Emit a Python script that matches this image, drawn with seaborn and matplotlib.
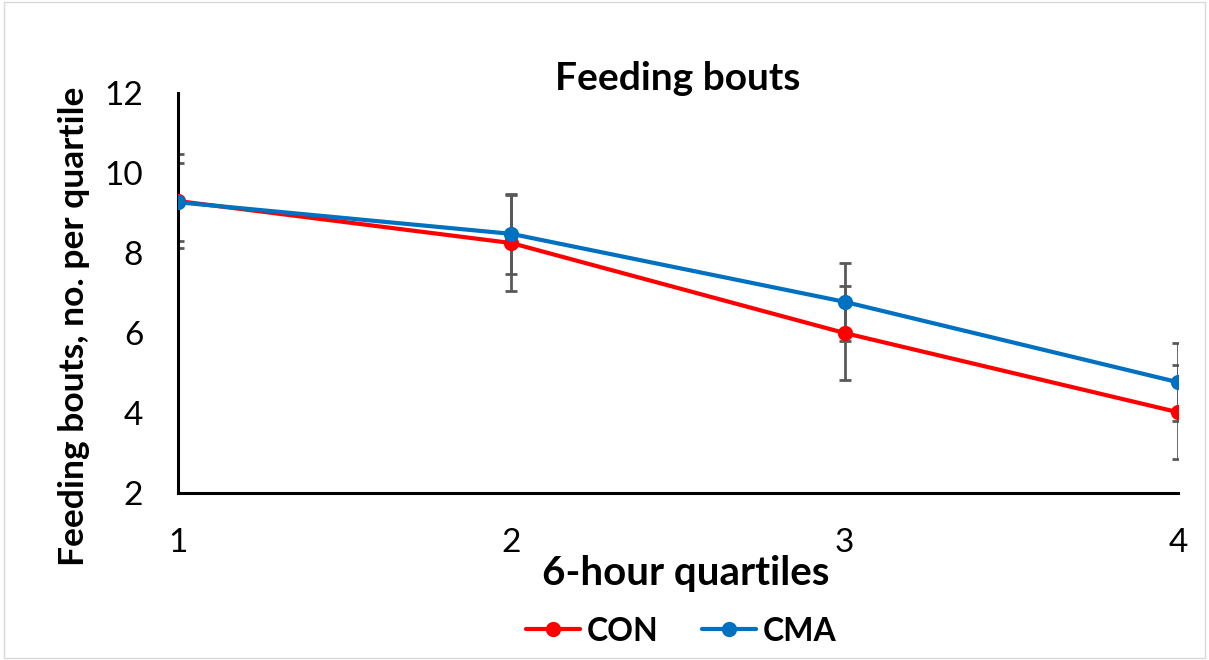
import matplotlib
matplotlib.use("Agg")
import matplotlib.pyplot as plt
import seaborn as sns
import pandas as pd
from matplotlib.patches import Rectangle

quartiles = [1, 2, 3, 4]
con_mean = [9.30, 8.25, 6.00, 4.02]
con_err = [1.17, 1.20, 1.18, 1.18]
cma_mean = [9.27, 8.48, 6.78, 4.77]
cma_err = [0.98, 1.00, 0.98, 0.98]
series_names = ["CON", "CMA"]
colors = {"CON": "#FF0000", "CMA": "#0070C0"}

sns.set_theme(style="white")
plt.rcParams["font.family"] = ["Lato", "DejaVu Sans"]
plt.rcParams.update({"text.color": "black", "axes.labelcolor": "black",
                     "xtick.color": "black", "ytick.color": "black"})

df = pd.DataFrame({
    "quartile": quartiles * 2,
    "value": con_mean + cma_mean,
    "series": ["CON"] * 4 + ["CMA"] * 4,
})

fig = plt.figure(figsize=(12.09, 6.6), dpi=100)
ax = fig.add_axes([0.1472, 0.253, 0.8272, 0.606])

# error bars
ax.errorbar(quartiles, con_mean, yerr=con_err, fmt="none", ecolor="#595959",
            elinewidth=2, capsize=4.5, capthick=2, zorder=1)
ax.errorbar(quartiles, cma_mean, yerr=cma_err, fmt="none", ecolor="#595959",
            elinewidth=2, capsize=4.5, capthick=2, zorder=1)

sns.lineplot(data=df, x="quartile", y="value", hue="series", hue_order=series_names,
             palette=colors, marker="o", markersize=11, markeredgewidth=0,
             linewidth=3, ax=ax, zorder=3, legend=True)

ax.set_xlim(1, 4)
ax.set_ylim(2, 12)
ax.set_xticks(quartiles)
ax.set_yticks([2, 4, 6, 8, 10, 12])
ax.tick_params(axis="both", length=0, labelsize=24, colors="black")
ax.tick_params(axis="y", pad=25)
ax.tick_params(axis="x", pad=25)
for s in ["top", "right"]:
    ax.spines[s].set_visible(False)
for s in ["left", "bottom"]:
    ax.spines[s].set_color("black")
    ax.spines[s].set_linewidth(2.2)
ax.grid(False)

ax.set_title("Feeding bouts", fontsize=28, fontweight="bold", pad=2)
ax.set_xlabel("6-hour quartiles", fontsize=29, fontweight="bold")
ax.xaxis.set_label_coords(0.508, -0.155)
ax.set_ylabel("Feeding bouts, no. per quartile", fontsize=25.5, fontweight="bold")
ax.yaxis.set_label_coords(-0.088, 0.4175)

leg = ax.legend(loc="center", bbox_to_anchor=(0.503, -0.345), ncol=2, frameon=False,
                fontsize=23, handlelength=1.7, columnspacing=1.35, handletextpad=0.2)
for t in leg.get_texts():
    t.set_fontweight("bold")

fig.patches.append(Rectangle((0.003, 0.003), 0.994, 0.994, transform=fig.transFigure,
                             fill=False, edgecolor="#D9D9D9", linewidth=1))

fig.savefig("out.png", dpi=100)
